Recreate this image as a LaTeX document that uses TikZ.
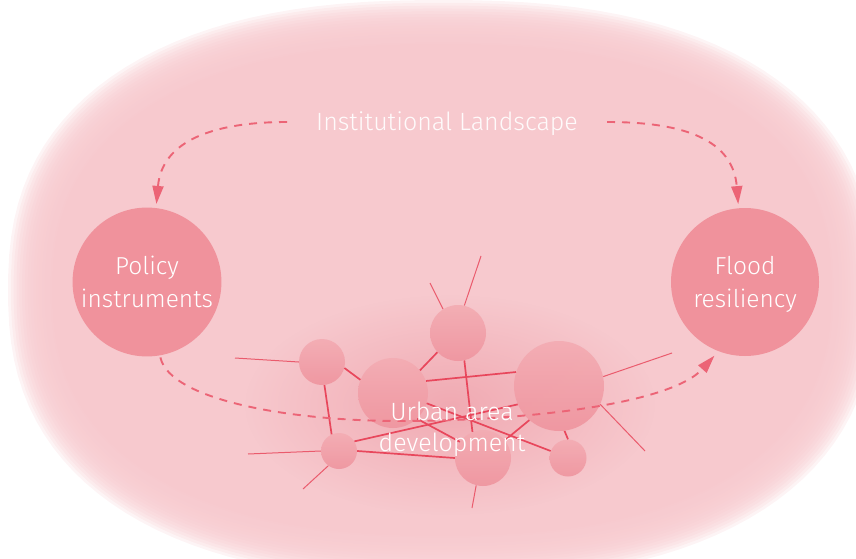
\documentclass[tikz,border=0pt]{standalone}
\usepackage{fontspec}
\setmainfont{Fira Sans Light}
\usetikzlibrary{arrows.meta,fadings}

\definecolor{bgpink}{HTML}{F7C9CE}
\definecolor{bigfill}{HTML}{F0929C}
\definecolor{dashcol}{HTML}{EC6476}
\definecolor{netline}{HTML}{E8475C}
\definecolor{glowcol}{HTML}{EE9CA6}
\definecolor{nodetop}{HTML}{F3ACB3}
\definecolor{nodebot}{HTML}{EF959F}

\tikzfading[name=glowfade, inner color=transparent!30, outer color=transparent!100]

\newcommand{\toprule}{\rule{0pt}{27pt}}
\newcommand{\botrule}{\rule[-10pt]{0pt}{10pt}}

\tikzset{
  bigcirc/.style={circle, fill=bigfill, minimum size=148pt, inner sep=0pt, align=center,
    text=white, font=\fontsize{24.5}{33}\selectfont},
  netnode/.style={circle, top color=nodetop, bottom color=nodebot, inner sep=0pt, fill opacity=0.92},
  netedge/.style={netline, line width=1.7pt},
  extedge/.style={netline!85!bgpink, line width=1pt},
  dashconn/.style={dashcol, line width=1.9pt, dash pattern=on 8pt off 7pt,
    -{Triangle[length=18pt,width=11pt]}},
  labeltext/.style={text=white, align=center},
}

\begin{document}
\begin{tikzpicture}[x=1pt,y=-1pt]
\useasboundingbox (0,0) rectangle (856,559);
\clip (0,0) rectangle (856,559);

% soft background blob (superellipse with fuzzy edge)
\foreach \i in {0,...,15} {
  \pgfmathsetmacro{\ra}{434-2.8*\i}
  \pgfmathsetmacro{\rb}{290-2.8*\i}
  \fill[bgpink, fill opacity=0.2] plot[domain=0.5:359.5, samples=120, variable=\t]
    ({442+\ra*cos(\t)*pow(abs(cos(\t)),-0.1667)}, {290+\rb*sin(\t)*pow(abs(sin(\t)),-0.1667)}) -- cycle;
}
\fill[bgpink] plot[domain=0.5:359.5, samples=120, variable=\t]
    ({442+390*cos(\t)*pow(abs(cos(\t)),-0.1667)}, {290+246*sin(\t)*pow(abs(sin(\t)),-0.1667)}) -- cycle;

% glow behind the network
\fill[glowcol, path fading=glowfade] (450,405) ellipse [x radius=205pt, y radius=110pt];

% main circles
\node[bigcirc] (pol) at (147,282) {\toprule Policy\\instruments\botrule};
\node[bigcirc] (fld) at (745,282) {\toprule Flood\\resiliency\botrule};

% title
\node[labeltext, text opacity=0.92, inner xsep=29pt, inner ysep=0pt, font=\fontsize{25}{30}\selectfont] (inst) at (447,122) {\rule[-9pt]{0pt}{36pt}Institutional Landscape};

% network nodes
\node[netnode, minimum size=46pt] (A) at (322,362) {};
\node[netnode, minimum size=70pt] (B) at (393,393) {};
\node[netnode, minimum size=56pt] (C) at (458,333) {};
\node[netnode, minimum size=90pt] (D) at (559,386) {};
\node[netnode, minimum size=36pt] (E) at (339,451) {};
\node[netnode, minimum size=56pt] (F) at (483,458) {};
\node[netnode, minimum size=37pt] (G) at (568,458) {};

% free ends
\coordinate (a1) at (235,358);
\coordinate (c1) at (481,256);
\coordinate (c2) at (430,283);
\coordinate (d1) at (672,353);
\coordinate (d2) at (645,451);
\coordinate (e1) at (248,454);
\coordinate (e2) at (303,489);
\coordinate (f1) at (472,508);

% external edges
\draw[extedge] (A.180) -- (a1);
\draw[extedge] (C.77) -- (c1);
\draw[extedge] (C.122) -- (c2);
\draw[extedge] (D.12) -- (d1);
\draw[extedge] (D.-24) -- (d2);
\draw[extedge] (E.180) -- (e1);
\draw[extedge] (E.-126) -- (e2);
\draw[extedge] (F.-104) -- (f1);

% internal edges
\draw[netedge] (A.-15) -- (B.158);
\draw[netedge] (A.-84) -- (E.114);
\draw[netedge] (B.40) -- (C.-137);
\draw[netedge] (B.20) -- (D.162);
\draw[netedge] (B.-17) -- (G.158);
\draw[netedge] (B.-47) -- (F.145);
\draw[netedge] (C.-77) -- (F.112);
\draw[netedge] (E.32) -- (D.-156);
\draw[netedge] (E.0) -- (F.180);
\draw[netedge] (F.39) -- (D.-131);
\draw[netedge] (D.-83) -- (G.90);

% dashed connectors
\draw[dashconn, shorten >=4pt] (inst.west) .. controls (215,122) and (162,140) .. (pol.83);
\draw[dashconn, shorten >=4pt] (inst.east) .. controls (685,122) and (733,140) .. (fld.95);
\draw[dashconn, shorten <=2pt, shorten >=6pt] (pol.-80) .. controls (170,400) and (290,421) .. (400,421)
   .. controls (520,421) and (670,405) .. (fld.-111);

% network label
\node[labeltext, inner sep=0pt, font=\fontsize{25}{31}\selectfont] (urb) at (452,430) {Urban area\strut\\development\strut};
\end{tikzpicture}
\end{document}
